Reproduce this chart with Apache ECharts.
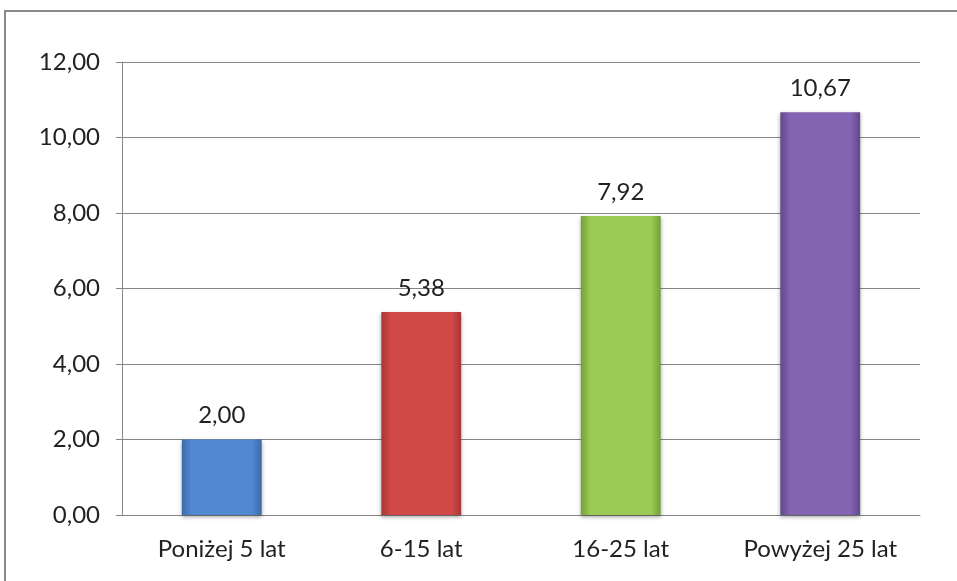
<!DOCTYPE html>
<html>
<head>
<meta charset="utf-8">
<script src="https://cdn.jsdelivr.net/npm/echarts@6/dist/echarts.min.js"></script>
<style>
  html, body { margin: 0; padding: 0; background: #fff; }
  #chart { width: 957px; height: 581px; }
</style>
</head>
<body>
<div id="chart"></div>
<script>
  // dane wykresu
  var categories = ['Poniżej 5 lat', '6-15 lat', '16-25 lat', 'Powyżej 25 lat'];
  var values = [2.00, 5.38, 7.92, 10.67];
  var edgeColors = ['#3b6aa6', '#a33734', '#75a039', '#61478a'];
  var midColors = ['#5089d0', '#d24a47', '#9bcb55', '#8264b3'];

  var chart = echarts.init(document.getElementById('chart'));

  function fmt(v) {
    return v.toFixed(2).replace('.', ',');
  }

  var barData = values.map(function (v, i) {
    return {
      value: v,
      itemStyle: {
        color: new echarts.graphic.LinearGradient(0, 0, 1, 0, [
          { offset: 0, color: edgeColors[i] },
          { offset: 0.12, color: midColors[i] },
          { offset: 0.88, color: midColors[i] },
          { offset: 1, color: edgeColors[i] }
        ]),
        shadowColor: 'rgba(0,0,0,0.35)',
        shadowBlur: 4,
        shadowOffsetY: 2
      }
    };
  });

  chart.setOption({
    animation: false,
    textStyle: { fontFamily: 'Lato' },
    graphic: [{
      type: 'rect',
      shape: { x: 5, y: 11, width: 960, height: 580 },
      style: { fill: 'none', stroke: '#8a8a8a', lineWidth: 2 }
    }],
    grid: { left: 122, right: 37, top: 62, bottom: 66 },
    xAxis: {
      type: 'category',
      data: categories,
      axisLine: { lineStyle: { color: '#868686' } },
      axisTick: { alignWithLabel: false, length: 6, lineStyle: { color: '#868686' } },
      axisLabel: { color: '#222', fontSize: 24, margin: 22, interval: 0 }
    },
    yAxis: {
      type: 'value',
      min: 0,
      max: 12,
      interval: 2,
      axisLine: { show: true, lineStyle: { color: '#868686' } },
      axisTick: { show: true, length: 6, lineStyle: { color: '#868686' } },
      splitLine: { lineStyle: { color: '#868686' } },
      axisLabel: { color: '#222', fontSize: 24, margin: 22, formatter: fmt }
    },
    series: [{
      type: 'bar',
      data: barData,
      barWidth: '40%',
      label: {
        show: true,
        position: 'top',
        distance: 12,
        color: '#222',
        fontSize: 24,
        formatter: function (p) { return fmt(p.value); }
      }
    }]
  });
</script>
</body>
</html>
